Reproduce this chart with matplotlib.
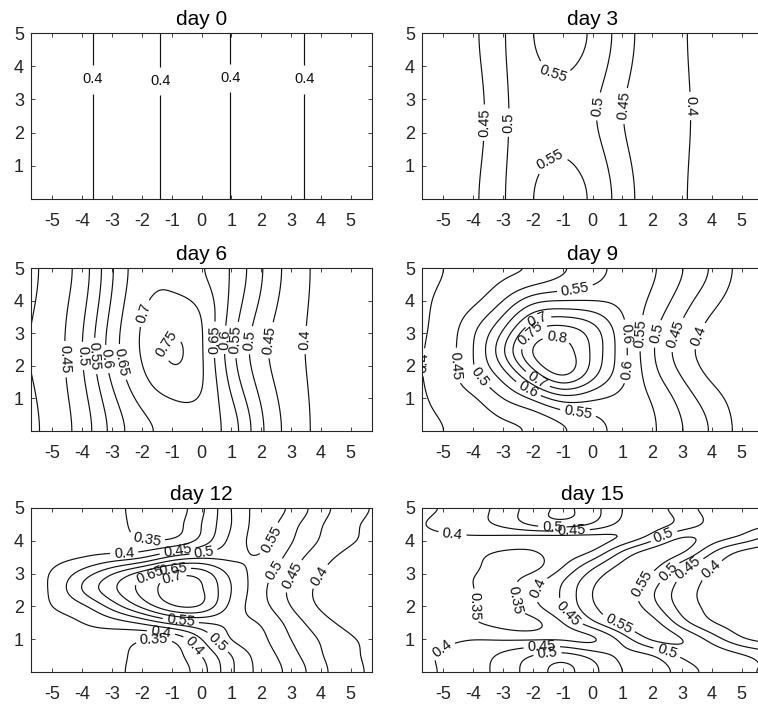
import numpy as np
import matplotlib
matplotlib.use('Agg')
import matplotlib.pyplot as plt

plt.rcParams['font.family'] = ['Liberation Sans', 'DejaVu Sans']
plt.rcParams['axes.unicode_minus'] = False

# sampled concentration values: columns at x_knots, rows at each day's y knots
x_knots = [-6, -5, -4, -3, -2, -1, 0, 1, 2, 3, 4, 5, 6]

day0_y = [0, 5]
day0_vals = [
    [0.393, 0.390, 0.396, 0.407, 0.407, 0.395, 0.390, 0.4005, 0.409, 0.405, 0.394, 0.390, 0.392],
    [0.393, 0.390, 0.396, 0.407, 0.407, 0.395, 0.390, 0.4005, 0.409, 0.405, 0.394, 0.390, 0.392],
]

day3_y = [0, 1.25, 2.5, 3.75, 5]
day3_vals = [
    [0.420, 0.430, 0.443, 0.495, 0.549, 0.565, 0.542, 0.475, 0.425, 0.403, 0.388, 0.380, 0.375],
    [0.418, 0.425, 0.437, 0.492, 0.537, 0.550, 0.525, 0.464, 0.423, 0.404, 0.388, 0.380, 0.375],
    [0.415, 0.420, 0.430, 0.490, 0.525, 0.535, 0.507, 0.452, 0.420, 0.405, 0.388, 0.380, 0.375],
    [0.418, 0.425, 0.437, 0.492, 0.537, 0.550, 0.525, 0.464, 0.423, 0.404, 0.388, 0.380, 0.375],
    [0.420, 0.430, 0.443, 0.495, 0.549, 0.565, 0.542, 0.475, 0.425, 0.403, 0.388, 0.380, 0.375],
]

day6_y = [0, 1.25, 2.5, 3.75, 5]
day6_vals = [
    [0.375, 0.419, 0.473, 0.565, 0.635, 0.665, 0.672, 0.625, 0.510, 0.430, 0.390, 0.380, 0.375],
    [0.385, 0.424, 0.487, 0.595, 0.675, 0.715, 0.700, 0.595, 0.488, 0.422, 0.390, 0.380, 0.375],
    [0.395, 0.428, 0.500, 0.625, 0.705, 0.755, 0.705, 0.568, 0.467, 0.414, 0.390, 0.380, 0.375],
    [0.385, 0.425, 0.488, 0.610, 0.695, 0.717, 0.692, 0.585, 0.488, 0.422, 0.390, 0.380, 0.375],
    [0.375, 0.420, 0.475, 0.595, 0.680, 0.690, 0.655, 0.595, 0.505, 0.430, 0.390, 0.380, 0.375],
]

day9_y = [0, 1, 1.75, 2.4, 3.1, 4, 5]
day9_vals = [
    [0.380, 0.400, 0.420, 0.440, 0.458, 0.495, 0.530, 0.566, 0.556, 0.502, 0.443, 0.386, 0.375],
    [0.385, 0.415, 0.445, 0.500, 0.560, 0.625, 0.610, 0.585, 0.545, 0.480, 0.420, 0.380, 0.372],
    [0.392, 0.425, 0.490, 0.580, 0.720, 0.805, 0.720, 0.615, 0.520, 0.445, 0.390, 0.372, 0.368],
    [0.390, 0.425, 0.500, 0.640, 0.800, 0.825, 0.740, 0.620, 0.508, 0.427, 0.378, 0.370, 0.368],
    [0.388, 0.420, 0.490, 0.600, 0.740, 0.770, 0.720, 0.615, 0.515, 0.440, 0.385, 0.372, 0.368],
    [0.383, 0.410, 0.440, 0.500, 0.580, 0.600, 0.600, 0.585, 0.540, 0.475, 0.415, 0.378, 0.372],
    [0.380, 0.400, 0.420, 0.440, 0.458, 0.495, 0.530, 0.566, 0.556, 0.502, 0.443, 0.386, 0.375],
]

day12_y = [0, 0.5, 1, 1.5, 2, 2.5, 3, 3.5, 4, 4.5, 5]
day12_vals = [
    [0.370, 0.375, 0.370, 0.360, 0.335, 0.325, 0.380, 0.490, 0.560, 0.535, 0.465, 0.415, 0.385],
    [0.370, 0.375, 0.375, 0.365, 0.335, 0.330, 0.400, 0.500, 0.562, 0.520, 0.455, 0.410, 0.385],
    [0.370, 0.375, 0.385, 0.375, 0.355, 0.360, 0.450, 0.550, 0.560, 0.500, 0.445, 0.405, 0.385],
    [0.370, 0.385, 0.400, 0.425, 0.460, 0.515, 0.550, 0.560, 0.545, 0.480, 0.420, 0.385, 0.370],
    [0.370, 0.400, 0.440, 0.520, 0.610, 0.690, 0.690, 0.585, 0.520, 0.450, 0.395, 0.372, 0.365],
    [0.365, 0.410, 0.500, 0.585, 0.665, 0.720, 0.705, 0.600, 0.515, 0.440, 0.390, 0.370, 0.365],
    [0.370, 0.405, 0.470, 0.545, 0.620, 0.680, 0.675, 0.585, 0.525, 0.455, 0.400, 0.375, 0.365],
    [0.370, 0.385, 0.400, 0.420, 0.445, 0.510, 0.540, 0.540, 0.545, 0.480, 0.420, 0.385, 0.370],
    [0.370, 0.375, 0.380, 0.370, 0.355, 0.360, 0.420, 0.515, 0.560, 0.505, 0.445, 0.405, 0.385],
    [0.370, 0.375, 0.375, 0.365, 0.335, 0.330, 0.400, 0.500, 0.565, 0.520, 0.455, 0.410, 0.385],
    [0.370, 0.375, 0.370, 0.360, 0.335, 0.325, 0.390, 0.500, 0.565, 0.540, 0.470, 0.420, 0.390],
]

day15_y = [0, 0.5, 1.0, 1.5, 1.9, 2.35, 2.8, 3.2, 3.7, 4.15, 4.45, 5.0]
day15_vals = [
    [0.380, 0.405, 0.430, 0.470, 0.525, 0.560, 0.515, 0.450, 0.430, 0.470, 0.515, 0.510, 0.490],
    [0.385, 0.405, 0.425, 0.460, 0.500, 0.520, 0.480, 0.440, 0.450, 0.510, 0.530, 0.505, 0.470],
    [0.385, 0.390, 0.398, 0.395, 0.395, 0.395, 0.395, 0.470, 0.555, 0.550, 0.480, 0.410, 0.380],
    [0.375, 0.370, 0.355, 0.335, 0.338, 0.400, 0.485, 0.562, 0.568, 0.475, 0.405, 0.380, 0.368],
    [0.370, 0.365, 0.350, 0.335, 0.375, 0.445, 0.535, 0.580, 0.530, 0.437, 0.390, 0.372, 0.366],
    [0.370, 0.365, 0.352, 0.330, 0.393, 0.458, 0.550, 0.578, 0.507, 0.425, 0.385, 0.370, 0.365],
    [0.370, 0.365, 0.350, 0.335, 0.375, 0.445, 0.535, 0.580, 0.530, 0.437, 0.390, 0.372, 0.366],
    [0.375, 0.370, 0.355, 0.335, 0.338, 0.400, 0.490, 0.565, 0.565, 0.470, 0.403, 0.378, 0.368],
    [0.380, 0.375, 0.362, 0.350, 0.350, 0.365, 0.400, 0.495, 0.565, 0.560, 0.464, 0.400, 0.376],
    [0.386, 0.394, 0.398, 0.397, 0.395, 0.395, 0.392, 0.405, 0.465, 0.540, 0.530, 0.495, 0.440],
    [0.392, 0.410, 0.428, 0.455, 0.495, 0.510, 0.480, 0.430, 0.430, 0.475, 0.515, 0.515, 0.500],
    [0.386, 0.404, 0.430, 0.470, 0.525, 0.556, 0.520, 0.450, 0.430, 0.475, 0.515, 0.525, 0.520],
]

days = [0, 3, 6, 9, 12, 15]
y_knots = [day0_y, day3_y, day6_y, day9_y, day12_y, day15_y]
values = [day0_vals, day3_vals, day6_vals, day9_vals, day12_vals, day15_vals]
levels = [0.35, 0.4, 0.45, 0.5, 0.55, 0.6, 0.65, 0.7, 0.75, 0.8]

# where the contour labels sit on each panel
label_pos = [
    [(-3.6, 3.6), (-1.4, 3.55), (1.0, 3.65), (3.4, 3.6)],
    [(-3.7, 2.3), (-2.75, 2.3), (-1.3, 3.8), (-1.5, 1.3), (0.1, 2.8), (1.1, 2.8), (3.2, 2.8)],
    [(-4.65, 2.2), (-4.05, 2.3), (-3.6, 2.3), (-3.25, 2.2), (-2.75, 2.1), (-1.9, 3.6), (-1.2, 2.7),
     (0.39, 2.8), (0.73, 2.8), (1.06, 2.8), (1.5, 2.8), (2.2, 2.8), (3.3, 2.8)],
    [(-5.6, 2.1), (-4.55, 2.0), (-3.85, 1.6), (-0.6, 4.45), (-0.5, 0.45), (-1.8, 3.3), (-2.0, 2.9),
     (-1.2, 2.9), (-2.15, 1.3), (-1.9, 1.5), (0.95, 1.9), (1.3, 3.0), (1.64, 3.0), (2.09, 3.0),
     (2.7, 3.0), (3.37, 3.0)],
    [(-1.85, 3.95), (-2.6, 3.7), (-0.8, 3.7), (0.06, 3.72), (-1.7, 2.9), (-1.0, 3.0), (-0.9, 2.75),
     (-0.7, 1.5), (-1.6, 1.1), (-1.4, 0.9), (-0.15, 0.87), (0.5, 0.87), (2.2, 4.1), (2.36, 3.16),
     (3.03, 2.95), (3.75, 3.05)],
    [(-4.7, 4.2), (-1.35, 4.4), (-0.7, 4.3), (-4.0, 2.0), (-2.5, 2.2), (-1.84, 2.55), (-0.71, 1.89),
     (0.97, 1.68), (1.7, 2.65), (2.54, 3.06), (3.2, 3.16), (3.94, 3.16), (2.43, 4.07),
     (2.54, 0.71), (-4.96, 0.57), (-1.7, 0.77), (-1.5, 0.46)],
]


def spline_weights(knots, pts, clamp):
    # cubic spline through the knots, written as a weight matrix on the knot values
    t = np.asarray(knots, float)
    n = len(t)
    h = np.diff(t)
    A = np.zeros((n, n))
    B = np.zeros((n, n))
    for i in range(1, n - 1):
        A[i, i - 1] = h[i - 1]
        A[i, i] = 2 * (h[i - 1] + h[i])
        A[i, i + 1] = h[i]
        B[i, i - 1] = 6 / h[i - 1]
        B[i, i] = -6 / h[i - 1] - 6 / h[i]
        B[i, i + 1] = 6 / h[i]
    if clamp:
        A[0, 0], A[0, 1] = 2 * h[0], h[0]
        B[0, 0], B[0, 1] = -6 / h[0], 6 / h[0]
        A[-1, -2], A[-1, -1] = h[-1], 2 * h[-1]
        B[-1, -2], B[-1, -1] = 6 / h[-1], -6 / h[-1]
    else:
        A[0, 0] = 1
        A[-1, -1] = 1
    M = np.linalg.solve(A, B)
    k = np.clip(np.searchsorted(t, pts) - 1, 0, n - 2)
    hk = h[k]
    a = (t[k + 1] - pts) / hk
    b = 1 - a
    W = np.zeros((len(pts), n))
    rows = np.arange(len(pts))
    W[rows, k] += a
    W[rows, k + 1] += b
    W += ((a ** 3 - a) * hk ** 2 / 6)[:, None] * M[k] + ((b ** 3 - b) * hk ** 2 / 6)[:, None] * M[k + 1]
    return W


xs = np.linspace(-5.72, 5.72, 240)
ys = np.linspace(0, 5, 140)
X, Y = np.meshgrid(xs, ys)
Wx = spline_weights(x_knots, xs, clamp=False)

fig = plt.figure(figsize=(7.58, 7.09), dpi=100)
W_PX, H_PX = 758, 709
col_left = [31, 422]
row_top = [33, 268, 508]
row_h = [166, 163, 164]

for i, day in enumerate(days):
    r, c = divmod(i, 2)
    ax = fig.add_axes([col_left[c] / W_PX, 1 - (row_top[r] + row_h[r]) / H_PX,
                       341 / W_PX, row_h[r] / H_PX])
    Wy = spline_weights(y_knots[i], ys, clamp=True)
    Z = Wy @ np.array(values[i]) @ Wx.T

    cs = ax.contour(X, Y, Z, levels=levels, colors='#111111', linewidths=0.85)
    texts = ax.clabel(cs, manual=label_pos[i], inline=True, fontsize=10.5, fmt='%g',
                      inline_spacing=4)
    if day == 0:
        for t in texts:
            t.set_rotation(0)

    ax.set_xlim(-5.72, 5.72)
    ax.set_ylim(0, 5)
    ax.set_xticks(range(-5, 6))
    ax.set_yticks(range(1, 6))
    ax.tick_params(direction='in', top=True, right=True, length=3, width=0.6,
                   labelsize=13, colors='#262626')
    ax.tick_params(axis='x', pad=10)
    ax.tick_params(axis='y', pad=5)
    for s in ax.spines.values():
        s.set_linewidth(0.8)
        s.set_color('#262626')
    ax.set_title(f'day {day}', fontsize=15, pad=6)

fig.savefig('out.png', dpi=100)
